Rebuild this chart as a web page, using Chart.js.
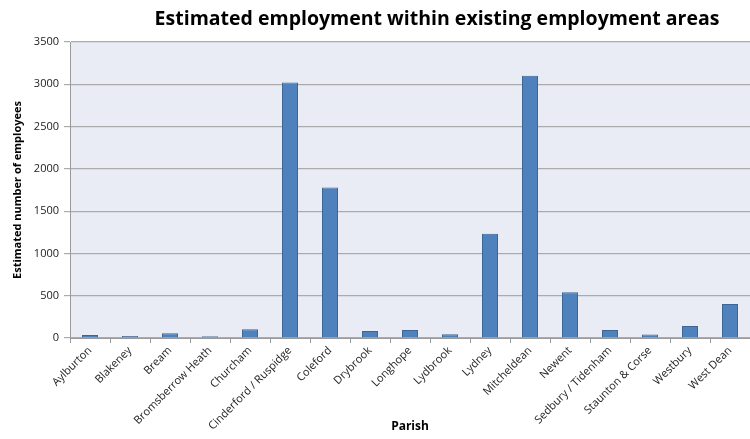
<!DOCTYPE html>
<html>
<head>
<meta charset="utf-8">
<script src="https://cdn.jsdelivr.net/npm/chart.js@4/dist/chart.umd.min.js"></script>
<style>
  html, body { margin: 0; padding: 0; background: #fff; }
  #wrap { width: 750px; height: 439px; position: relative; }
</style>
</head>
<body>
<div id="wrap"><canvas id="empChart"></canvas></div>
<script>
var parishes = [
  'Aylburton', 'Blakeney', 'Bream', 'Bromsberrow Heath', 'Churcham',
  'Cinderford / Ruspidge', 'Coleford', 'Drybrook', 'Longhope', 'Lydbrook',
  'Lydney', 'Mitcheldean', 'Newent', 'Sedbury / Tidenham', 'Staunton & Corse',
  'Westbury', 'West Dean'
];
var employees = [35, 24, 55, 20, 103, 3020, 1780, 83, 94, 44, 1234, 3100, 542, 94, 40, 141, 401];
var chartTitle = 'Estimated employment within existing employment areas';
var yTitle = 'Estimated number of employees';
var xTitle = 'Parish';

// plot background + heading drawn by hand so the heading can sit off-centre
const plotBg = {
  id: 'plotBg',
  beforeDraw(chart) {
    const { ctx, chartArea: a } = chart;
    ctx.save();
    ctx.fillStyle = '#E9ECF5';
    ctx.fillRect(a.left, a.top, a.right - a.left, a.bottom - a.top);
    ctx.restore();
  },
  afterDraw(chart) {
    const ctx = chart.ctx;
    ctx.save();
    ctx.font = 'bold 19.5px "Open Sans"';
    ctx.fillStyle = '#000';
    ctx.textAlign = 'center';
    ctx.textBaseline = 'middle';
    ctx.fillText(chartTitle, 437, 19);
    ctx.restore();
  }
};

new Chart(document.getElementById('empChart'), {
  type: 'bar',
  data: {
    labels: parishes,
    datasets: [
      {
        data: employees,
        backgroundColor: '#4F81BD',
        borderColor: '#3C6696',
        borderWidth: 1,
        barPercentage: 0.8,
        categoryPercentage: 0.5,
      },
    ],
  },
  options: {
    responsive: true,
    maintainAspectRatio: false,
    animation: false,
    layout: { padding: { top: 42, right: 0, left: 0, bottom: 0 } },
    plugins: {
      legend: { display: false },
      tooltip: { enabled: false },
    },
    scales: {
      x: {
        afterFit(scale) { scale.height = 101; },
        grid: {
          offset: true,
          drawOnChartArea: false,
          tickLength: 5,
          color: '#9A9A9A',
        },
        border: { color: '#9A9A9A' },
        ticks: {
          minRotation: 45,
          maxRotation: 45,
          padding: 1,
          color: '#222',
          font: { family: '"Open Sans"', size: 11 },
        },
        title: {
          display: true,
          text: xTitle,
          color: '#000',
          font: { family: '"Open Sans"', size: 12, weight: 'bold' },
          padding: { top: 0, bottom: 5 },
        },
      },
      y: {
        min: 0,
        max: 3500,
        afterFit(scale) { scale.width = 70; },
        grid: {
          color: '#ABABAB',
          tickLength: 6,
          lineWidth: 1.2,
        },
        border: { color: '#9A9A9A' },
        ticks: {
          stepSize: 500,
          padding: 5,
          color: '#222',
          font: { family: '"Open Sans"', size: 11 },
          callback: (v) => String(v),
        },
        title: {
          display: true,
          text: yTitle,
          color: '#000',
          font: { family: '"Open Sans"', size: 11, weight: 'bold' },
          padding: { top: 11, bottom: 0 },
        },
      },
    },
  },
  plugins: [plotBg],
});
</script>
</body>
</html>
